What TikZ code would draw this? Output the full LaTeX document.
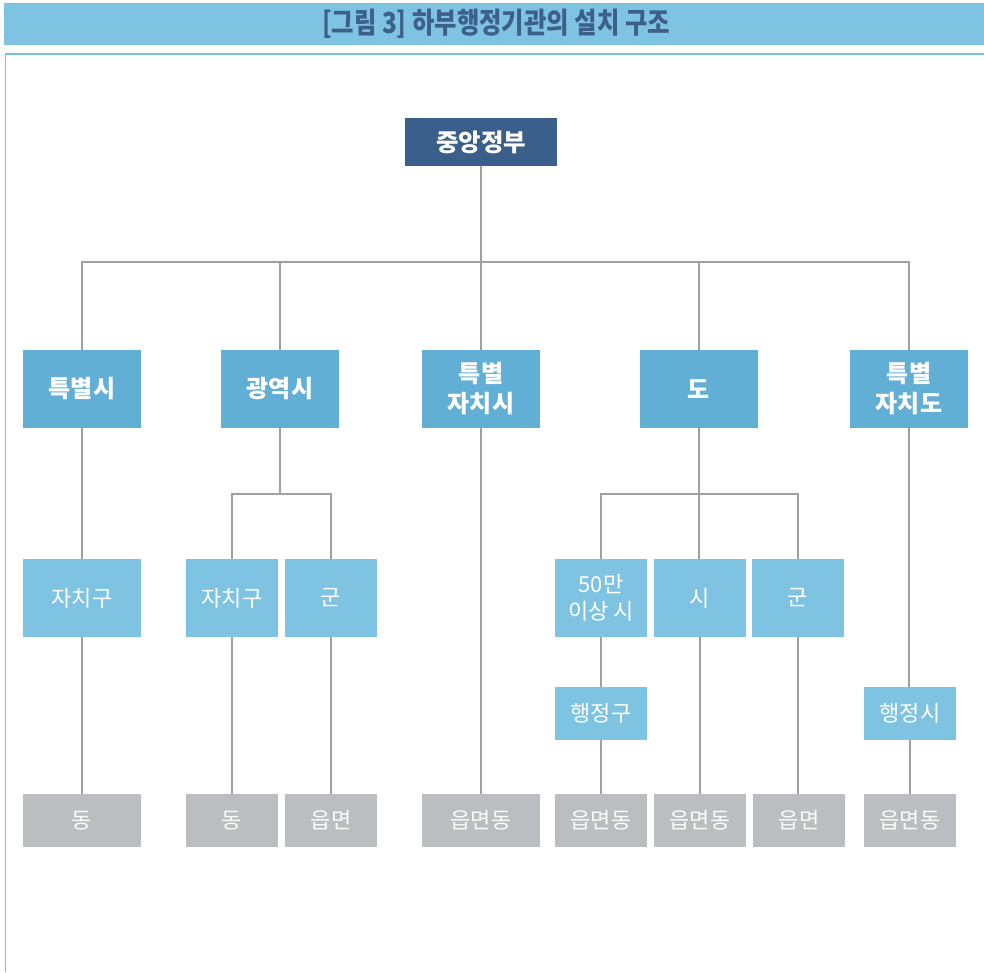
\documentclass[tikz,border=0pt]{standalone}
\usepackage{fontspec}
\setmainfont{Noto Sans CJK KR}
\newfontfamily\titlefont[FakeStretch=0.84]{Noto Sans CJK KR}
\definecolor{govblue}{RGB}{58,95,138}
\definecolor{lvlone}{RGB}{98,175,213}
\definecolor{lvltwo}{RGB}{126,196,226}
\definecolor{lvlgray}{RGB}{188,189,193}
\definecolor{linegray}{RGB}{160,160,160}
\definecolor{titlebar}{RGB}{126,196,226}
\definecolor{titletext}{RGB}{60,95,140}
\definecolor{frameblue}{RGB}{120,190,225}
\tikzset{
 box/.style={rectangle, inner sep=0pt, text=white, align=center},
 govbox/.style={box, fill=govblue, minimum width=152pt, minimum height=48pt, font=\fontsize{24.4}{30}\selectfont\bfseries},
 onebox/.style={box, fill=lvlone, minimum width=118pt, minimum height=78pt, font=\fontsize{24}{30}\selectfont\bfseries},
 twobox/.style={box, fill=lvltwo, minimum width=92pt, minimum height=78pt, font=\fontsize{22}{27}\selectfont},
 threebox/.style={box, fill=lvltwo, minimum width=92pt, minimum height=53pt, font=\fontsize{22}{27}\selectfont},
 fourbox/.style={box, fill=lvlgray, minimum width=92pt, minimum height=53pt, font=\fontsize{22}{27}\selectfont, text=white!94!lvlgray},
 wide/.style={minimum width=118pt},
 conn/.style={draw=linegray, line width=1.2pt},
}
\begin{document}
\begin{tikzpicture}[x=1pt,y=-1pt]
\useasboundingbox (0,0) rectangle (984,972);
% title bar and frame
\fill[titlebar] (4,3) rectangle (984,44.5);
\node[font=\titlefont\bfseries\fontsize{29}{32}\selectfont, text=titletext, inner sep=0pt] (title) at (496,24) {[그림 3] 하부행정기관의 설치 구조};
\draw[frameblue, line width=1.5pt] (5.5,972) -- (5.5,54) -- (984,54);
% nodes
\node[govbox] (gov) at (481,142) {중앙정부};
\node[onebox] (tsi) at (82,389) {특별시};
\node[onebox] (gy) at (280,389) {광역시};
\node[onebox] (tjs) at (481,389) {특별\\자치시};
\node[onebox] (do) at (699,389) {도};
\node[onebox] (tjd) at (909,389) {특별\\자치도};
\node[twobox,wide] (a2) at (82,598) {자치구};
\node[twobox] (b2) at (232,598) {자치구};
\node[twobox] (c2) at (331,598) {군};
\node[twobox] (d2) at (601,598) {50만\\이상 시};
\node[twobox] (e2) at (700,598) {시};
\node[twobox] (f2) at (798,598) {군};
\node[threebox] (d3) at (601,713.5) {행정구};
\node[threebox] (h3) at (910,713.5) {행정시};
\node[fourbox,wide] (a4) at (82,820.3) {동};
\node[fourbox] (b4) at (232,820.3) {동};
\node[fourbox] (c4) at (331,820.3) {읍면};
\node[fourbox,wide] (t4) at (481,820.3) {읍면동};
\node[fourbox] (d4) at (601,820.3) {읍면동};
\node[fourbox] (e4) at (700,820.3) {읍면동};
\node[fourbox] (f4) at (799,820.3) {읍면};
\node[fourbox] (h4) at (910,820.3) {읍면동};
% connectors
\coordinate (bus) at (481,262);
\coordinate (subg) at (281,494);
\coordinate (subd) at (699,494);
\draw[conn] (gov.south) -- (bus);
\draw[conn] (tsi.north) |- (tjd.north |- bus) -- (tjd.north);
\draw[conn] (gy.north) -- (gy.north |- bus);
\draw[conn] (tjs.north) -- (tjs.north |- bus);
\draw[conn] (do.north) -- (do.north |- bus);
\draw[conn] (tsi.south) -- (a2.north);
\draw[conn] (a2.south) -- (a4.north);
\draw[conn] (gy.south) -- (gy.south |- subg);
\draw[conn] (b2.north) |- (c2.north |- subg) -- (c2.north);
\draw[conn] (b2.south) -- (b4.north);
\draw[conn] (c2.south) -- (c4.north);
\draw[conn] (tjs.south) -- (t4.north);
\draw[conn] (do.south) -- (do.south |- e2.north);
\draw[conn] (d2.north) |- (f2.north |- subd) -- (f2.north);
\draw[conn] (d2.south) -- (d3.north);
\draw[conn] (d3.south) -- (d4.north);
\draw[conn] (e2.south) -- (e4.north);
\draw[conn] (f2.south) -- (f2.south |- f4.north);
\draw[conn] (tjd.south) -- (tjd.south |- h3.north);
\draw[conn] (h3.south) -- (h4.north);
\end{tikzpicture}
\end{document}
